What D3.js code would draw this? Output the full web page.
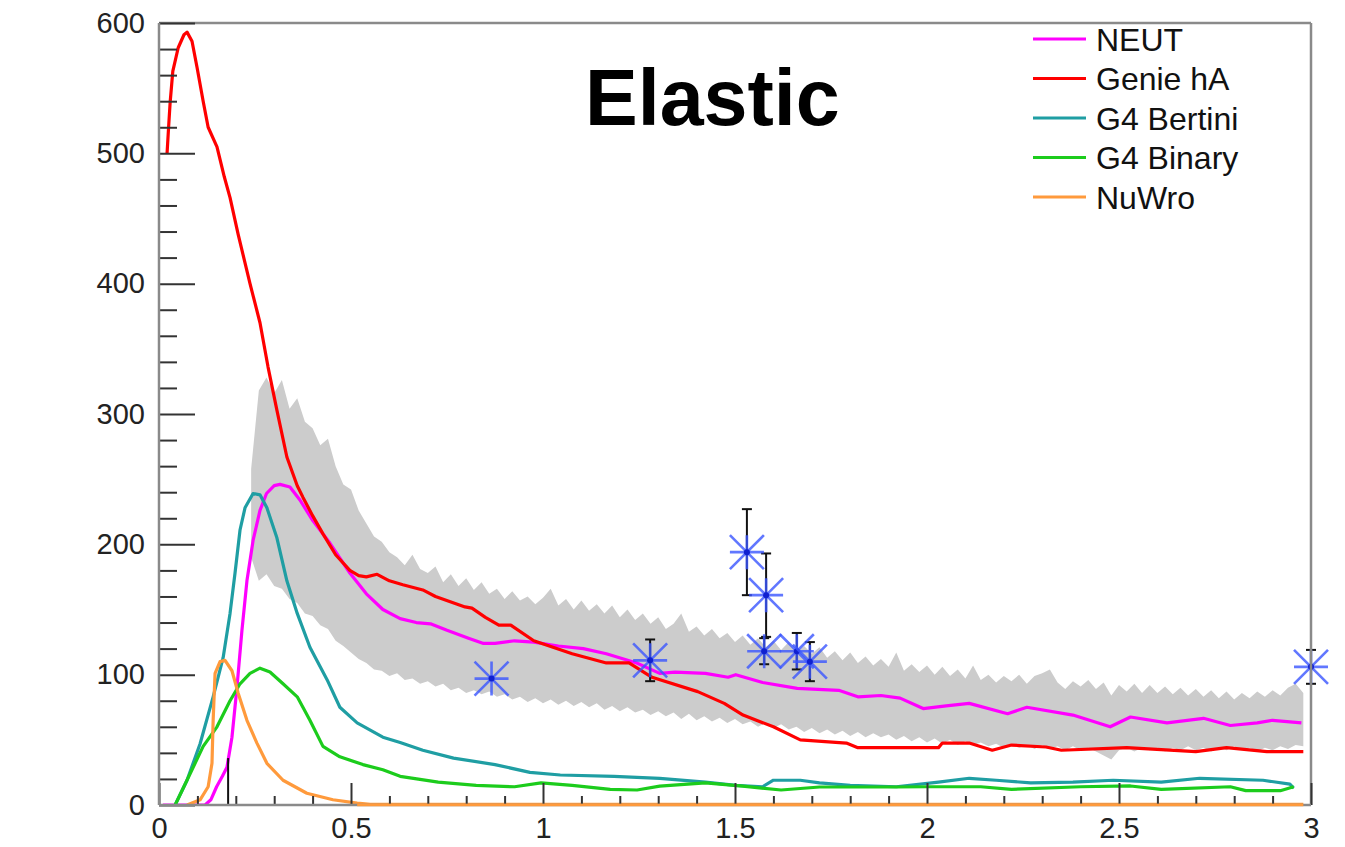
<!DOCTYPE html>
<html>
<head>
<meta charset="utf-8">
<script src="https://cdn.jsdelivr.net/npm/d3@7"></script>
<style>
  html, body { margin: 0; padding: 0; background: #fff; }
  svg { display: block; font-family: "Liberation Sans", Arial, Helvetica, sans-serif; }
</style>
</head>
<body>
<svg id="chart" width="1345" height="847"></svg>
<script>
// ---- axis ticks ----
const xMajorTicks = [0, 0.5, 1, 1.5, 2, 2.5, 3];
const yMajorTicks = [0, 100, 200, 300, 400, 500, 600];

// ---- model curves: [energy, value] ----
const neut = [[0.01,0],[0.12,0],[0.135,4],[0.15,14],[0.165,22],[0.177,29],[0.19,52],[0.203,90],[0.216,134],[0.229,172],[0.245,203],[0.263,226],[0.28,239],[0.30,245],[0.315,246],[0.341,244],[0.367,234],[0.401,218],[0.445,201],[0.497,178],[0.54,162],[0.583,150],[0.628,143],[0.67,140],[0.707,139],[0.75,134],[0.806,128],[0.845,124],[0.875,124],[0.926,126],[0.976,125],[1.04,122],[1.105,120],[1.165,116],[1.244,109],[1.304,101],[1.344,102],[1.423,101],[1.482,98],[1.502,100],[1.572,94],[1.662,89.5],[1.77,88],[1.82,83],[1.88,84],[1.93,82],[1.99,74],[2.05,76],[2.11,78],[2.21,70],[2.26,75],[2.38,69],[2.477,60],[2.53,67.5],[2.625,63],[2.72,66.5],[2.79,61],[2.86,63],[2.90,65],[2.975,63]];

const genieHA = [[0.021,500],[0.025,520],[0.029,539],[0.036,563],[0.05,581],[0.065,591],[0.073,593],[0.086,586],[0.099,566],[0.115,540],[0.128,520],[0.151,505],[0.17,482],[0.185,466],[0.206,438],[0.237,400],[0.263,370],[0.284,336],[0.307,303],[0.333,267],[0.36,245],[0.375,236],[0.40,222],[0.427,208],[0.46,192],[0.497,180],[0.52,176],[0.54,175],[0.568,177],[0.60,172],[0.635,169],[0.687,165],[0.72,160],[0.797,152],[0.815,151],[0.85,144],[0.885,138],[0.916,138],[0.976,126],[1.076,116],[1.165,109],[1.224,109],[1.284,98],[1.403,87],[1.472,78],[1.521,69],[1.60,60],[1.67,50],[1.79,47.5],[1.82,44],[2.0,44],[2.03,44],[2.04,47.5],[2.11,47.5],[2.17,42],[2.22,46],[2.31,44.5],[2.35,42],[2.52,44],[2.70,41],[2.78,44],[2.885,41],[2.98,41]];

const g4Bertini = [[0.042,0],[0.073,19],[0.107,47],[0.141,83],[0.167,113],[0.185,147],[0.198,178],[0.211,211],[0.224,228],[0.245,239],[0.263,238],[0.281,228],[0.307,205],[0.333,172],[0.36,147],[0.393,121],[0.438,96],[0.471,75],[0.516,63],[0.583,52],[0.628,48],[0.687,42],[0.767,36],[0.875,31],[0.966,25],[1.045,23],[1.185,22],[1.304,20.5],[1.423,17.6],[1.502,15],[1.572,14],[1.60,19],[1.67,19],[1.72,17],[1.80,15],[1.92,14],[2.03,17.6],[2.11,20.5],[2.18,19],[2.27,17],[2.38,17.6],[2.485,19],[2.61,17.6],[2.71,20.5],[2.875,19],[2.945,16],[2.955,13]];

const g4Binary = [[0.042,0],[0.081,24],[0.115,45],[0.151,60],[0.185,80],[0.211,93],[0.237,101],[0.263,105],[0.289,102],[0.323,93],[0.36,83],[0.393,65],[0.427,45],[0.471,37],[0.531,31],[0.583,27],[0.628,22],[0.727,17.6],[0.826,15],[0.926,14],[0.995,17],[1.076,15],[1.175,12],[1.245,11.5],[1.304,14.5],[1.423,17],[1.52,14.5],[1.62,11.5],[1.72,13.8],[1.92,13.8],[2.0,14],[2.14,14],[2.22,12],[2.40,14],[2.53,14.6],[2.61,12],[2.79,14],[2.83,11],[2.92,11],[2.955,14]];

const nuWro = [[0.073,0],[0.107,4],[0.128,14],[0.138,32],[0.141,65],[0.146,101],[0.159,110],[0.172,111],[0.19,103],[0.206,86],[0.229,65],[0.255,47.5],[0.281,32],[0.323,19],[0.385,9],[0.453,4],[0.516,1.5],[0.55,0.5],[2.98,0.5]];

// ---- uncertainty band, bins of 0.02 starting at 0.24 ----
const bandStart = 0.24, bandStep = 0.02;
const bandHi = [258,318,328,316,326,304,312,294,289,276,281,260,246,242,226,216,206,202,194,190,184,192,181,178,183,171,177,168,174,165,171,162,166,158,164,157,160,154,159,166,153,158,150,157,149,154,147,153,144,150,142,147,139,144,135,139,147,133,137,130,135,128,132,125,130,123,128,121,126,119,125,117,122,116,121,113,118,111,117,109,114,107,112,106,117,103,108,102,107,100,106,99,104,97,107,96,100,94,99,95,100,93,99,101,104,94,89,95,91,96,89,94,84,92,87,93,86,92,86,91,85,90,84,89,83,88,82,87,81,86,82,87,83,88,84,90,93,86];
const bandLo = [190,172,177,168,166,158,155,147,145,138,135,126,122,117,112,109,104,103,99,101,96,97,93,95,91,93,88,90,86,88,85,87,83,85,81,83,79,82,78,81,77,80,76,79,75,78,73,76,72,75,71,73,69,72,68,71,66,70,65,68,64,67,63,66,62,64,60,63,59,62,58,60,56,59,55,58,54,57,53,56,52,55,52,54,50,53,49,52,48,51,47,50,46,49,46,48,45,47,44,47,44,46,43,46,43,45,42,45,42,44,41,38,35,42,44,41,44,42,44,41,44,42,45,42,44,41,44,42,45,42,44,41,44,42,45,43,46,45];

// ---- measured points ----
const dataX   = [0.866, 1.279, 1.531, 1.581, 1.576, 1.661, 1.695, 3.0];
const dataY   = [97, 111, 194, 161, 118, 118, 110, 106];
const dataErr = [0, 16, 33, 32, 10, 14, 15, 13];
// bin at low energy with an error bar only
const lowBinX = [0.18];
const lowBinErr = [36];

const series = [
  { name: "NEUT",       data: neut,      color: "#ff00ff" },
  { name: "Genie hA",   data: genieHA,   color: "#ff0000" },
  { name: "G4 Bertini", data: g4Bertini, color: "#1f9ea3" },
  { name: "G4 Binary",  data: g4Binary,  color: "#1ccc1c" },
  { name: "NuWro",      data: nuWro,     color: "#ff9a3c" }
];

// ---- layout ----
const svg = d3.select("#chart");
const x = d3.scaleLinear().domain([0, 3]).range([159, 1311]);
const y = d3.scaleLinear().domain([0, 600]).range([805, 23]);

svg.append("defs").append("clipPath").attr("id", "plotClip")
  .append("rect").attr("x", x(0)).attr("y", y(600))
  .attr("width", x(3) - x(0)).attr("height", y(0) - y(600));

const plot = svg.append("g").attr("clip-path", "url(#plotClip)");

// band
const bandPts = bandHi.map((h, i) => ({ e: bandStart + i * bandStep, hi: h, lo: bandLo[i] }));
plot.append("path")
  .datum(bandPts)
  .attr("fill", "#cccccc")
  .attr("d", d3.area().x(d => x(d.e)).y0(d => y(d.lo)).y1(d => y(d.hi)));

// curves
const line = d3.line().x(d => x(d[0])).y(d => y(d[1]));
series.forEach(s => {
  plot.append("path")
    .datum(s.data)
    .attr("fill", "none")
    .attr("stroke", s.color)
    .attr("stroke-width", 3.2)
    .attr("stroke-linejoin", "round")
    .attr("d", line);
});

// error bars
const errG = svg.append("g").attr("stroke", "#111").attr("stroke-width", 2);
dataX.forEach((xv, i) => {
  if (dataErr[i] <= 0) return;
  const y0 = y(dataY[i] - dataErr[i]), y1 = y(dataY[i] + dataErr[i]), cx = x(xv);
  errG.append("line").attr("x1", cx).attr("x2", cx).attr("y1", y0).attr("y2", y1);
  errG.append("line").attr("x1", cx - 5).attr("x2", cx + 5).attr("y1", y0).attr("y2", y0);
  errG.append("line").attr("x1", cx - 5).attr("x2", cx + 5).attr("y1", y1).attr("y2", y1);
});
lowBinX.forEach((xv, i) => {
  errG.append("line").attr("x1", x(xv)).attr("x2", x(xv)).attr("y1", y(0)).attr("y2", y(lowBinErr[i]));
});

// asterisk markers
const r = 17;
const starPath = `M${-r},0L${r},0M0,${-r}L0,${r}M${-r},${-r}L${r},${r}M${-r},${r}L${r},${-r}`;
const starG = svg.append("g");
dataX.forEach((xv, i) => {
  const g = starG.append("g").attr("transform", `translate(${x(xv)},${y(dataY[i])})`);
  g.append("path").attr("d", starPath).attr("stroke", "#3a55ff").attr("stroke-width", 2.6)
    .attr("stroke-opacity", 0.8).attr("fill", "none");
  g.append("circle").attr("r", 3).attr("fill", "#1020d0");
});

// ---- frame & axes ----
const frame = svg.append("g").attr("stroke", "#8a8a8a").attr("stroke-width", 2.5).attr("fill", "none");
frame.append("line").attr("x1", x(0)).attr("x2", x(3)).attr("y1", y(600)).attr("y2", y(600));
frame.append("line").attr("x1", x(3)).attr("x2", x(3)).attr("y1", y(600)).attr("y2", y(0));

const tickFont = "29px";

// y axis: major + minor ticks drawn inward
const yAxis = svg.append("g").attr("transform", `translate(${x(0)},0)`)
  .call(d3.axisLeft(y).tickValues(yMajorTicks).tickSize(-36).tickSizeOuter(0).tickPadding(14)
    .tickFormat(d3.format("~g")));
yAxis.select(".domain").remove();
yAxis.selectAll(".tick line").attr("stroke", "#333").attr("stroke-width", 2);
yAxis.selectAll(".tick text").attr("font-size", tickFont).attr("fill", "#222")
  .attr("font-family", "Liberation Sans, Arial, sans-serif");

const yMinor = svg.append("g").attr("transform", `translate(${x(0)},0)`)
  .call(d3.axisLeft(y).tickValues(d3.range(0, 601, 20).filter(v => v % 100 !== 0))
    .tickSize(-18).tickSizeOuter(0).tickFormat(""));
yMinor.select(".domain").remove();
yMinor.selectAll(".tick line").attr("stroke", "#333").attr("stroke-width", 2);

// x axis
const xAxis = svg.append("g").attr("transform", `translate(0,${y(0)})`)
  .call(d3.axisBottom(x).tickValues(xMajorTicks).tickSize(-22).tickSizeOuter(0).tickPadding(12)
    .tickFormat(d3.format("~g")));
xAxis.select(".domain").remove();
xAxis.selectAll(".tick line").attr("stroke", "#333").attr("stroke-width", 2);
xAxis.selectAll(".tick text").attr("font-size", tickFont).attr("fill", "#222")
  .attr("font-family", "Liberation Sans, Arial, sans-serif");

const xMinor = svg.append("g").attr("transform", `translate(0,${y(0)})`)
  .call(d3.axisBottom(x).tickValues(d3.range(1, 30).filter(v => v % 5 !== 0).map(v => v / 10))
    .tickSize(-9).tickSizeOuter(0).tickFormat(""));
xMinor.select(".domain").remove();
xMinor.selectAll(".tick line").attr("stroke", "#333").attr("stroke-width", 2);

// axis lines (left, bottom)
svg.append("line").attr("x1", x(0)).attr("x2", x(0)).attr("y1", y(600)).attr("y2", y(0))
  .attr("stroke", "#8a8a8a").attr("stroke-width", 2.5);
svg.append("line").attr("x1", x(0)).attr("x2", x(3)).attr("y1", y(0)).attr("y2", y(0))
  .attr("stroke", "#8a8a8a").attr("stroke-width", 2.5);

// NuWro tail drawn over the bottom axis line
svg.append("path")
  .datum(nuWro.filter(d => d[0] >= 0.5))
  .attr("fill", "none").attr("stroke", "#ff9a3c").attr("stroke-width", 2.5)
  .attr("d", d3.line().x(d => x(d[0])).y(() => y(0)));

// ---- title ----
svg.append("text").attr("x", 585).attr("y", 125)
  .attr("font-size", 79).attr("font-weight", "bold").attr("fill", "#000")
  .text("Elastic");

// ---- legend ----
const legend = svg.append("g");
series.forEach((s, i) => {
  const ly = 39 + i * 39.5;
  legend.append("line").attr("x1", 1033).attr("x2", 1086).attr("y1", ly).attr("y2", ly)
    .attr("stroke", s.color).attr("stroke-width", 3);
  legend.append("text").attr("x", 1096).attr("y", ly).attr("dy", "0.36em")
    .attr("font-size", 32).attr("fill", "#111").text(s.name);
});
</script>
</body>
</html>
